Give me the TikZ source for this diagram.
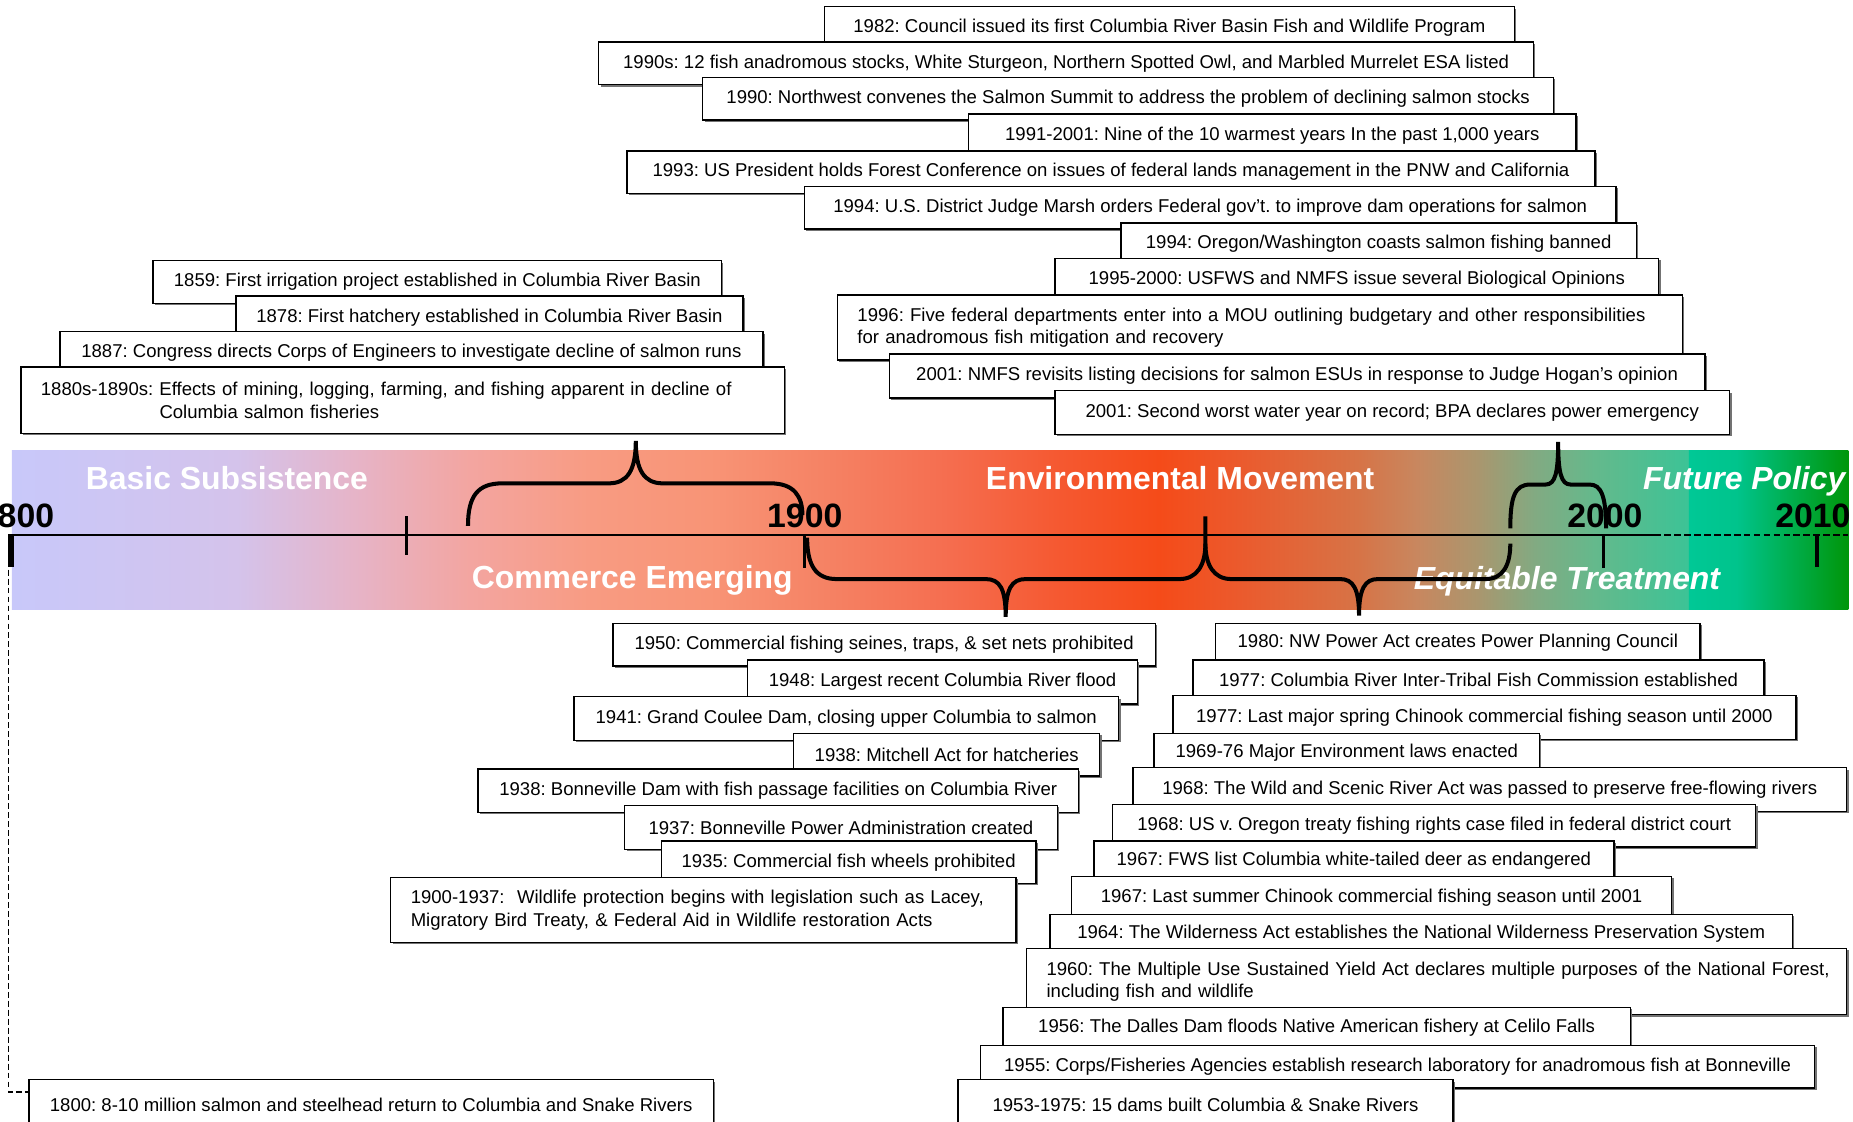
\documentclass[tikz,border=0pt]{standalone}
\usepackage{fontspec}
\setmainfont{Liberation Sans}
\usetikzlibrary{shadows}
\frenchspacing

% colours of the era band
\definecolor{b01}{RGB}{200,200,250}
\definecolor{b02}{RGB}{212,195,235}
\definecolor{b03}{RGB}{230,180,200}
\definecolor{b04}{RGB}{243,165,160}
\definecolor{b05}{RGB}{248,155,130}
\definecolor{b06}{RGB}{248,148,118}
\definecolor{b07}{RGB}{245,130,100}
\definecolor{b08}{RGB}{245,110,80}
\definecolor{b09}{RGB}{245,88,48}
\definecolor{b10}{RGB}{245,75,25}
\definecolor{b11}{RGB}{235,90,45}
\definecolor{b12}{RGB}{215,115,70}
\definecolor{b13}{RGB}{200,135,95}
\definecolor{b14}{RGB}{170,150,110}
\definecolor{b15}{RGB}{130,170,130}
\definecolor{b16}{RGB}{100,185,140}
\definecolor{b17}{RGB}{60,195,150}
\definecolor{f01}{RGB}{0,200,150}
\definecolor{f02}{RGB}{0,196,140}
\definecolor{f03}{RGB}{0,150,10}

\pgfdeclarehorizontalshading{eraband}{100bp}{color(0bp)=(b01); color(25bp)=(b01);
  color(31.7bp)=(b02); color(35.2bp)=(b03); color(38.7bp)=(b04); color(42.3bp)=(b05);
  color(45.8bp)=(b06); color(49.3bp)=(b07); color(52.8bp)=(b08); color(56.3bp)=(b09);
  color(59.2bp)=(b10); color(61.6bp)=(b11); color(65.1bp)=(b12); color(66.9bp)=(b13);
  color(68.7bp)=(b14); color(70.4bp)=(b15); color(72.2bp)=(b16); color(75bp)=(b17);
  color(100bp)=(b17)}
\pgfdeclarehorizontalshading{futureband}{100bp}{color(0bp)=(f01); color(25bp)=(f01);
  color(40bp)=(f02); color(75bp)=(f03); color(100bp)=(f03)}

\begin{document}
\begin{tikzpicture}[x=0.5pt, y=-0.5pt,
  evbox/.style={draw, line width=0.6pt, fill=white, inner sep=0pt, anchor=north west,
    minimum width=#1, minimum height=18pt,
    drop shadow={shadow xshift=0.8pt, shadow yshift=-0.8pt, fill=black!55, opacity=1},
    font=\fontsize{7.85}{9.5}\selectfont},
  evtwo/.style={evbox=0pt, align=left, inner xsep=8.5pt, text width=#1, minimum height=27.5pt},
  era/.style={text=white, anchor=base, inner sep=0pt,
    font=\fontsize{13.5}{16}\selectfont\bfseries},
  eraital/.style={era, font=\fontsize{13.5}{16}\selectfont\bfseries\itshape},
  yr/.style={anchor=base, inner sep=0pt, font=\fontsize{14.3}{17}\selectfont\bfseries},
  brace/.style={line width=1.7pt},
  leader/.style={line width=0.6pt, dash pattern=on 2.5pt off 1.3pt}]
\useasboundingbox (0,0) rectangle (1568,949);

% era band
\shade[shading=eraband] (10,381) rectangle (1429,516);
\shade[shading=futureband] (1429,381) rectangle (1564,516);

\node[era] (basic) at (192,414.6) {Basic Subsistence};
\node[era] (commerce) at (535,498) {Commerce Emerging};
\node[era] (environ) at (998.6,414.6) {Environmental Movement};
\node[eraital] (equit) at (1326,499) {Equitable Treatment};
\node[eraital] (future) at (1476,414.6) {Future Policy};

% time axis
\draw[line width=0.85pt] (10,452.7) -- (1400,452.7);
\draw[line width=0.85pt, dash pattern=on 2.8pt off 1.4pt] (1400,452.7) -- (1564,452.7);
\draw[line width=2.5pt] (9.5,452) -- (9.5,480);
\draw[line width=1.1pt] (344,437) -- (344,470);
\draw[line width=1.1pt] (681,453) -- (681,481);
\draw[line width=1.1pt] (1357,453) -- (1357,481);
\draw[line width=1.4pt] (1537.5,452) -- (1537.5,480);
\coordinate (c1800) at (7,482);

\node[yr] (y1800) at (14,446) {1800};
\node[yr] (y1900) at (681,446) {1900};
\node[yr] (y2000) at (1358,446) {2000};
\node[yr] (y2010) at (1534,446) {2010};

% braces
\draw[brace] (396,445) .. controls (396,420) and (404,409) .. (425,409) -- (515,409)
  .. controls (531,409) and (538,398) .. (538,373) .. controls (538,398) and (545,409) .. (561,409)
  -- (652,409) .. controls (672,409) and (679,420) .. (679,436);
\draw[brace] (683,455) .. controls (683,478) and (690,490) .. (708,490) -- (834,490)
  .. controls (846,490) and (851,498) .. (851,522) .. controls (851,498) and (856,490) .. (868,490)
  -- (998,490) .. controls (1013,490) and (1020,478) .. (1020,460) -- (1020,437);
\draw[brace] (1020,460) .. controls (1020,478) and (1027,490) .. (1042,490) -- (1134,490)
  .. controls (1145,490) and (1150,498) .. (1150,521) .. controls (1150,498) and (1155,490) .. (1166,490)
  -- (1257,490) .. controls (1272,490) and (1278,478) .. (1278,460);
\draw[brace] (1278,447) .. controls (1278,420) and (1282,410) .. (1295,410) -- (1308,410)
  .. controls (1316,410) and (1318.5,400) .. (1318.5,374) .. controls (1318.5,400) and (1321,410) .. (1329,410)
  -- (1345,410) .. controls (1355,410) and (1359,420) .. (1359,447);

% events after 1980
\node[evbox=292pt] (ev1982) at (697,5) {1982: Council issued its first Columbia River Basin Fish and Wildlife Program};
\node[evbox=395.5pt] (ev1990s) at (506,35) {1990s: 12 fish anadromous stocks, White Sturgeon, Northern Spotted Owl, and Marbled Murrelet ESA listed};
\node[evbox=360pt] (ev1990) at (594,65) {1990: Northwest convenes the Salmon Summit to address the problem of declining salmon stocks};
\node[evbox=257pt] (ev1991) at (819,96) {1991-2001: Nine of the 10 warmest years In the past 1,000 years};
\node[evbox=409.5pt] (ev1993) at (530,127) {1993: US President holds Forest Conference on issues of federal lands management in the PNW and California};
\node[evbox=343.5pt] (ev1994a) at (680,157) {1994: U.S. District Judge Marsh orders Federal gov’t. to improve dam operations for salmon};
\node[evbox=218pt] (ev1994b) at (948,188) {1994: Oregon/Washington coasts salmon fishing banned};
\node[evbox=255.5pt] (ev1995) at (892,218) {1995-2000: USFWS and NMFS issue several Biological Opinions};
\node[evtwo=340.5pt] (ev1996) at (708,249) {\mbox{1996: Five federal departments enter into a MOU outlining budgetary and other responsibilities}\\for anadromous fish mitigation and recovery};
\node[evbox=345pt, minimum height=18.5pt] (ev2001a) at (752,299) {2001: NMFS revisits listing decisions for salmon ESUs in response to Judge Hogan’s opinion};
\node[evbox=285.5pt, minimum height=18.5pt] (ev2001b) at (892,330) {2001: Second worst water year on record; BPA declares power emergency};

% events of the 1800s
\node[evbox=240.5pt] (ev1859) at (129,220) {1859: First irrigation project established in Columbia River Basin};
\node[evbox=214.5pt] (ev1878) at (199,250) {1878: First hatchery established in Columbia River Basin};
\node[evbox=297.5pt] (ev1887) at (50,280) {1887: Congress directs Corps of Engineers to investigate decline of salmon runs};
\node[evtwo=306pt, minimum height=28pt] (ev1880s) at (17,310) {\mbox{1880s-1890s: Effects of mining, logging, farming, and fishing apparent in decline of}\\\phantom{1880s-1890s: }Columbia salmon fisheries};

% events 1900-1950
\node[evbox=229.5pt] (ev1950) at (518,527) {1950: Commercial fishing seines, traps, \& set nets prohibited};
\node[evbox=165pt, minimum height=18.5pt] (ev1948) at (632,558) {1948: Largest recent Columbia River flood};
\node[evbox=230.5pt, minimum height=18.5pt] (ev1941) at (485,589) {1941: Grand Coulee Dam, closing upper Columbia to salmon};
\node[evbox=129.5pt] (ev1938a) at (671,620) {1938: Mitchell Act for hatcheries};
\node[evbox=254pt, minimum height=18.5pt] (ev1938b) at (404,650) {1938: Bonneville Dam with fish passage facilities on Columbia River};
\node[evbox=183pt, minimum height=18.5pt] (ev1937) at (528,681) {1937: Bonneville Power Administration created};
\node[evbox=158.5pt] (ev1935) at (559,711) {1935: Commercial fish wheels prohibited};
\node[evtwo=247.5pt] (ev1900) at (330,742) {\mbox{1900-1937:~ Wildlife protection begins with legislation such as Lacey,}\\Migratory Bird Treaty, \& Federal Aid in Wildlife restoration Acts};

% events 1953-1980
\node[evbox=205pt, minimum height=16.5pt] (ev1980) at (1028,527) {1980: NW Power Act creates Power Planning Council};
\node[evbox=241.5pt, minimum height=16.5pt] (ev1977a) at (1009,558) {1977: Columbia River Inter-Tribal Fish Commission established};
\node[evbox=263.5pt, minimum height=18.5pt] (ev1977b) at (992,588) {1977: Last major spring Chinook commercial fishing season until 2000};
\node[evbox=163pt, minimum height=16pt] (ev1969) at (976,620) {1969-76 Major Environment laws enacted};
\node[evbox=302pt, minimum height=18.5pt] (ev1968a) at (958,649) {1968: The Wild and Scenic River Act was passed to preserve free-flowing rivers};
\node[evbox=272pt] (ev1968b) at (941,680) {1968: US v. Oregon treaty fishing rights case filed in federal district court};
\node[evbox=220pt, minimum height=17pt] (ev1967a) at (925,711) {1967: FWS list Columbia white-tailed deer as endangered};
\node[evbox=254pt] (ev1967b) at (906,741) {1967: Last summer Chinook commercial fishing season until 2001};
\node[evbox=314pt, minimum height=16.5pt] (ev1964) at (888,773) {1964: The Wilderness Act establishes the National Wilderness Preservation System};
\node[evtwo=330pt, minimum height=28pt] (ev1960) at (868,802) {\mbox{1960: The Multiple Use Sustained Yield Act declares multiple purposes of the National Forest,}\\including fish and wildlife};
\node[evbox=265.5pt, minimum height=17pt] (ev1956) at (848,852) {1956: The Dalles Dam floods Native American fishery at Celilo Falls};
\node[evbox=353pt] (ev1955) at (829,884) {1955: Corps/Fisheries Agencies establish research laboratory for anadromous fish at Bonneville};
\node[evbox=209.5pt, minimum height=21pt] (ev1953) at (810,913) {1953-1975: 15 dams built Columbia \& Snake Rivers};

\node[evbox=289.5pt, minimum height=21pt] (ev1800) at (24,913) {1800: 8-10 million salmon and steelhead return to Columbia and Snake Rivers};
\draw[leader] (c1800) |- ([yshift=-5.5pt]ev1800.north west);
\end{tikzpicture}
\end{document}
